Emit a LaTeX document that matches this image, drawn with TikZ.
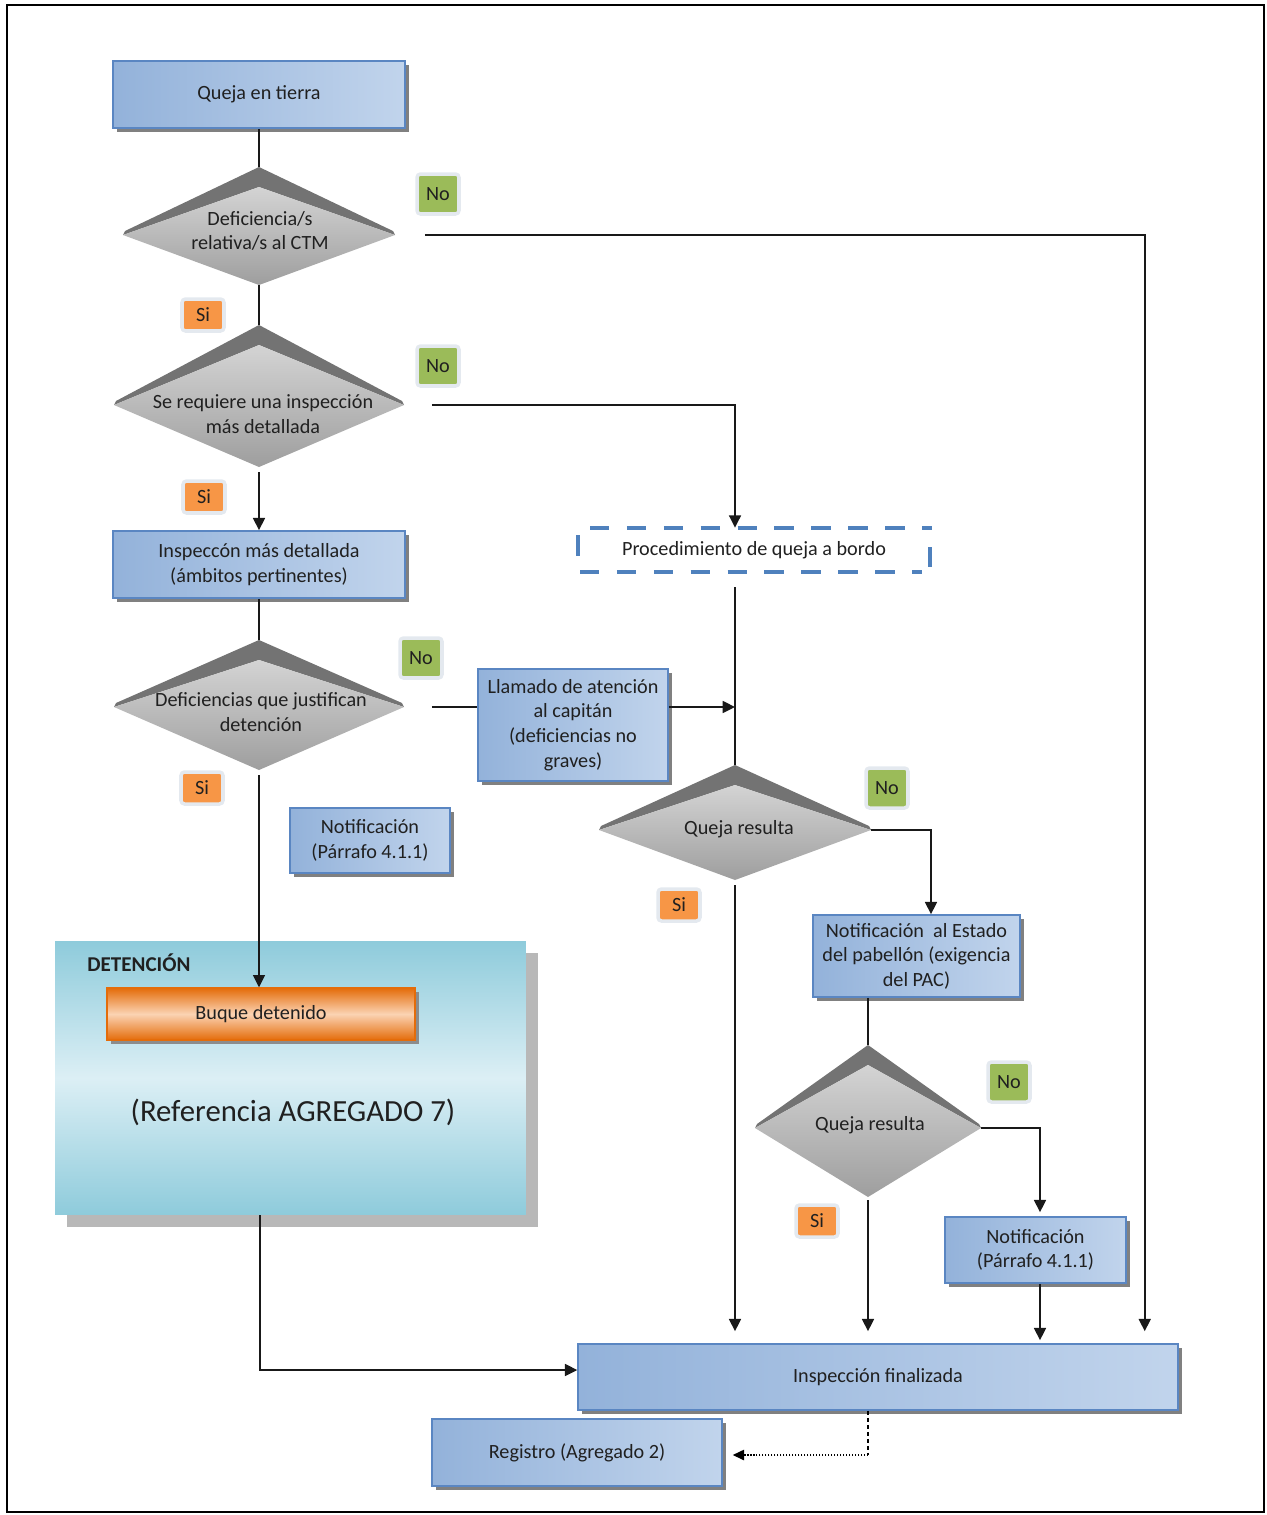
\documentclass[tikz,border=0pt]{standalone}
\usepackage{fontspec}
\setmainfont{Carlito}
\usetikzlibrary{arrows.meta,shadows,calc}
\definecolor{bxborder}{HTML}{5A86C2}
\definecolor{bxA}{HTML}{93B2DA}
\definecolor{bxB}{HTML}{C1D4EC}
\definecolor{txt}{HTML}{202020}
\definecolor{tgreen}{HTML}{9BBB59}
\definecolor{torange}{HTML}{F79646}
\definecolor{halo}{HTML}{E4E9EF}
\definecolor{orA}{HTML}{E46C0A}
\definecolor{orB}{HTML}{FBD3B3}
\definecolor{detA}{HTML}{8ECBDB}
\definecolor{detB}{HTML}{DCEFF5}
\definecolor{dashblue}{HTML}{4F81BD}
\newcommand{\bdia}[7]{%
  \fill[black!55] (#2,#3) -- ({#2+#7-2},{#5-4}) -- ({#2+#7},#5) -- (#2,#4) -- ({#2-#7},#5) -- ({#2-#7+2},{#5-4}) -- cycle;
  \shade[top color=black!17, bottom color=black!38] (#2,#4) -- ({#2+#7},#5) -- (#2,#6) -- ({#2-#7},#5) -- cycle;
  \coordinate (#1-n) at (#2,#3);
  \coordinate (#1-s) at (#2,#6);
  \coordinate (#1-e) at ({#2+#7},#5);
  \coordinate (#1-w) at ({#2-#7},#5);
}
\tikzset{
  basefont/.style={font=\fontsize{11.5}{14}\selectfont, text=txt, align=center},
  bx/.style={basefont, draw=bxborder, line width=0.9pt, left color=bxA, right color=bxB,
    drop shadow={shadow xshift=2.2pt, shadow yshift=-2.2pt, fill=black!50, opacity=1}, inner sep=0pt},
  obx/.style={basefont, draw=orA, line width=0.8pt, top color=orA, bottom color=orA, middle color=orB,
    drop shadow={shadow xshift=2.2pt, shadow yshift=-2.2pt, fill=black!45, opacity=1}, inner sep=0pt},
  detbox/.style={top color=detA, bottom color=detA, middle color=detB,
    drop shadow={shadow xshift=6.8pt, shadow yshift=-6.8pt, fill=black!28, opacity=1}, inner sep=0pt},
  dtxt/.style={basefont, inner sep=0pt},
  tagno/.style={basefont, fill=tgreen, draw=halo, line width=2pt, rounded corners=2pt,
    minimum width=0.84cm, minimum height=0.8cm, inner sep=0pt},
  tagsi/.style={basefont, fill=torange, draw=halo, line width=2pt, rounded corners=2pt,
    minimum width=0.84cm, minimum height=0.64cm, inner sep=0pt},
  ln/.style={line width=1pt, draw=black!90},
  arr/.style={-{Triangle[length=7pt,width=6.8pt]}},
  dashline/.style={draw=dashblue, line width=2.3pt, dash pattern=on 11pt off 10pt},
}
\begin{document}
\begin{tikzpicture}[x=0.02cm,y=-0.02cm]
\useasboundingbox (0,0) rectangle (1267,1515);
\draw[line width=0.8pt] (7,5) rectangle (1264,1512);

% detention container
\node[detbox, minimum width=9.42cm, minimum height=5.48cm] (det) at (290.5,1078) {};
\node[basefont, font=\fontsize{12}{14}\bfseries, anchor=west, inner sep=0pt] (detl) at (87,963) {DETENCIÓN};
\node[basefont, font=\fontsize{17.5}{20}\selectfont, inner sep=0pt] (ref) at (293,1112) {(Referencia AGREGADO 7)};
\node[obx, minimum width=6.16cm, minimum height=1.04cm] (bq) at (261,1014) {Buque detenido};

% boxes
\node[bx, minimum width=5.84cm, minimum height=1.34cm] (b1) at (259,94.5) {Queja en tierra};
\node[bx, minimum width=5.84cm, minimum height=1.34cm] (b2) at (259,564.5) {Inspeccón más detallada\\(ámbitos pertinentes)};
\node[basefont, minimum width=7.04cm, minimum height=0.88cm, inner sep=0pt] (b3) at (754,550) {Procedimiento de queja a bordo};
\node[bx, minimum width=3.8cm, minimum height=2.24cm] (b4) at (573,725) {Llamado de atención\\al capitán\\(deficiencias no\\graves)};
\node[bx, minimum width=3.2cm, minimum height=1.3cm] (b5) at (370,840.5) {Notificación\\(Párrafo 4.1.1)};
\node[bx, minimum width=4.14cm, minimum height=1.64cm] (b6) at (916.5,956) {Notificación~ al Estado\\del pabellón (exigencia\\del PAC)};
\node[bx, minimum width=3.62cm, minimum height=1.32cm] (b7) at (1035.5,1250) {Notificación\\(Párrafo 4.1.1)};
\node[bx, minimum width=12cm, minimum height=1.32cm] (b8) at (878,1377) {Inspección finalizada};
\node[bx, minimum width=5.8cm, minimum height=1.34cm] (b9) at (577,1452.5) {Registro (Agregado 2)};

% dashed box outline
\draw[dashline] (590,528) -- (932,528);
\draw[dashline] (580,572) -- (922,572);
\draw[draw=dashblue, line width=2.3pt] (578,535) -- (578,556);
\draw[draw=dashblue, line width=2.3pt] (930,547) -- (930,567);

% diamonds
\bdia{d1}{259}{167}{187}{235}{285}{136}
\bdia{d2}{259}{325}{345}{405}{467}{145}
\bdia{d3}{259}{640}{660}{707}{770}{145}
\bdia{d4}{735}{765}{785}{830}{880}{136}
\bdia{d5}{868}{1045}{1065}{1128}{1197}{113}
\node[dtxt] (d1) at (260,231) {Deficiencia/s\\relativa/s al CTM};
\node[dtxt] (d2) at (263,414) {Se requiere una inspección\\más detallada};
\node[dtxt] (d3) at (261,712) {Deficiencias que justifican\\detención};
\node[dtxt] (d4) at (739,829) {Queja resulta};
\node[dtxt] (d5) at (870,1125) {Queja resulta};

% tags
\node[tagno] (n1) at (438,194) {No};
\node[tagno] (n2) at (438,366) {No};
\node[tagno] (n3) at (421,658) {No};
\node[tagno] (n4) at (887,788) {No};
\node[tagno] (n5) at (1009,1082) {No};
\node[tagsi] (s1) at (203,315) {Si};
\node[tagsi] (s2) at (204,497) {Si};
\node[tagsi] (s3) at (202,788) {Si};
\node[tagsi] (s4) at (679,905) {Si};
\node[tagsi] (s5) at (817,1221) {Si};

% connectors
\draw[ln] (b1.south) -- (d1-n);
\draw[ln] (d1-s) -- (d2-n);
\draw[ln, arr, shorten <=0.6cm, shorten >=0.24cm] (d1-e) -| ([xshift=-0.68cm]b8.north east);
\draw[ln, arr, shorten <=0.56cm] (d2-e) -| (d4-n |- b3.north);
\draw[ln, arr, shorten <=0.1cm] (d2-s) -- (b2.north);
\draw[ln] (b2.south) -- (d3-n);
\draw[ln, shorten <=0.56cm] (d3-e) -- (d3-e -| b4.west);
\draw[ln, arr] (d3-e -| b4.east) -- (d3-e -| d4-n);
\draw[ln, shorten <=0.3cm] (d4-n |- b3.south) -- (d4-n);
\draw[ln, arr, shorten <=0.1cm] (d3-s) -- (d3-s |- bq.north);
\draw[ln, arr] (d4-e) -| ([xshift=0.29cm]b6.north);
\draw[ln, arr, shorten <=0.1cm, shorten >=0.24cm] (d4-s) -- (d4-s |- b8.north);
\draw[ln] (d5-n |- b6.south) -- (d5-n);
\draw[ln, arr, shorten >=0.08cm] (d5-e) -| ([xshift=0.09cm]b7.north);
\draw[ln, arr, shorten <=0.06cm, shorten >=0.24cm] (d5-s) -- (d5-s |- b8.north);
\draw[ln, arr, shorten >=0.06cm] ([xshift=0.09cm]b7.south) -- ([xshift=0.09cm]b7.south |- b8.north);
\draw[ln, arr] ([xshift=-0.61cm]det.south) |- ([yshift=0.14cm]b8.west);
\coordinate (rj) at (868,1455);
\draw[line width=0.7pt, dash pattern=on 2.5pt off 1.5pt] (rj |- b8.south) -- (rj);
\draw[line width=0.7pt, densely dotted, -{Triangle[length=6.5pt,width=6pt]}, shorten >=0.2cm] (rj) -- (rj -| b9.east);
\end{tikzpicture}
\end{document}
